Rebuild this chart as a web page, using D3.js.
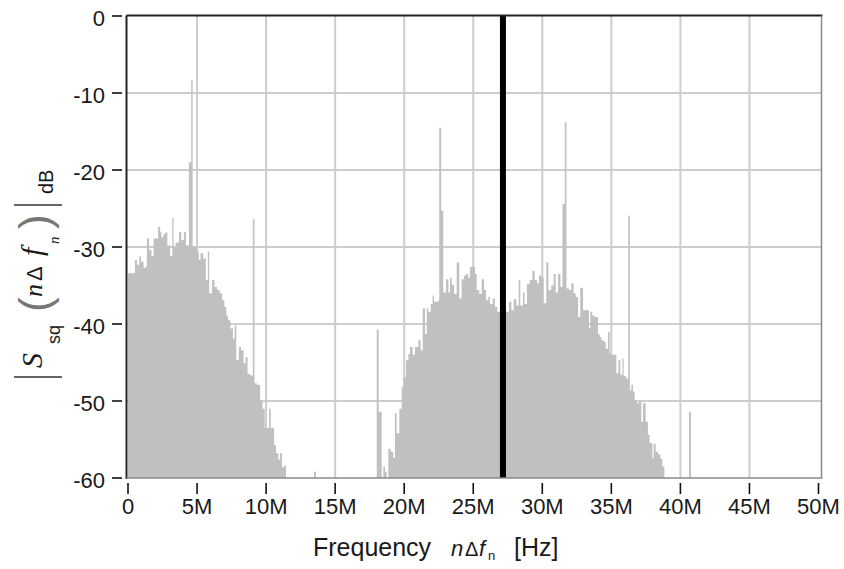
<!DOCTYPE html>
<html>
<head>
<meta charset="utf-8">
<script src="https://cdn.jsdelivr.net/npm/d3@7"></script>
<style>
  html, body { margin: 0; padding: 0; background: #ffffff; }
  svg { display: block; }
</style>
</head>
<body>
<svg id="chart" width="844" height="569"></svg>
<script>
// ---- data (frequencies in MHz, levels in dB); each bar runs from its start to the next start
const binStartMHz = [
  0.00, 0.50, 0.65, 0.82, 0.94, 1.13, 1.29, 1.37, 1.53, 1.70, 1.85, 2.18, 2.33, 2.42, 2.57, 2.71,
  2.85, 3.05, 3.21, 3.30, 3.45, 3.69, 3.86, 4.05, 4.20, 4.41, 4.58, 4.68, 4.96, 5.13, 5.25, 5.44,
  5.64, 5.78, 5.88, 6.09, 6.26, 6.45, 6.64, 6.81, 6.98, 7.12, 7.24, 7.41, 7.60, 7.72, 7.84, 8.03,
  8.18, 8.37, 8.51, 8.66, 8.85, 9.04, 9.16, 9.33, 9.57, 9.74, 9.90, 10.22, 10.34, 10.58, 10.72,
  10.89, 11.01, 11.15, 11.29, 11.44,
  13.47, 13.61,
  18.01, 18.15, 18.37, 18.49, 18.61, 18.73, 18.85, 19.02, 19.21, 19.33, 19.45, 19.65, 19.82, 19.94,
  20.13, 20.30, 20.42, 20.61, 20.78, 21.02, 21.19, 21.34, 21.51, 21.63, 21.75, 21.92, 22.06, 22.16,
  22.47, 22.54, 22.68, 22.83, 23.03, 23.20, 23.32, 23.44, 23.61, 23.80, 23.99, 24.16, 24.33, 24.48,
  24.64, 24.76, 25.13, 25.25, 25.44, 25.61, 25.78, 25.92, 26.09, 26.21, 26.41, 26.57, 26.74,
  27.44, 27.59, 27.76, 27.93, 28.12, 28.29, 28.41, 28.60, 28.72, 28.89, 29.09, 29.28, 29.45, 29.62,
  29.76, 29.93, 30.10, 30.29, 30.44, 30.65, 30.82, 30.97, 31.14, 31.31, 31.46, 31.63, 31.75, 31.93,
  32.10, 32.27, 32.42, 32.59, 32.75, 32.95, 33.38, 33.48, 33.62, 33.79, 34.03, 34.15, 34.27, 34.44,
  34.59, 34.76, 34.88, 35.00, 35.36, 35.51, 35.65, 35.80, 35.89, 36.09, 36.22, 36.34, 36.45, 36.57,
  36.69, 36.86, 37.00, 37.17, 37.29, 37.48, 37.65, 37.77, 37.97, 38.06, 38.21, 38.38, 38.55, 38.69,
  38.84,
  40.62, 40.76
];
const levelDb = [
  -33.4, -31.7, -32.3, -31.2, -31.9, -32.7, -32.5, -28.9, -30.4, -31.2, -28.9, -27.4, -28.1, -28.7, -28.3, -28.1,
  -29.8, -31.2, -26.2, -30.0, -29.4, -28.1, -29.1, -28.1, -29.8, -19.0, -8.3, -30.0, -30.6, -31.7, -30.8, -31.5,
  -34.3, -30.6, -36.0, -34.3, -35.2, -35.6, -36.0, -36.9, -37.8, -38.9, -39.5, -40.6, -41.9, -40.2, -44.7, -43.0,
  -43.4, -45.1, -44.3, -46.5, -46.7, -26.4, -47.7, -47.9, -49.9, -51.0, -53.5, -51.0, -53.5, -55.7, -56.8,
  -57.6, -56.8, -58.6, -58.4, -60,
  -59.2, -60,
  -40.7, -51.4, -60, -58.5, -59.2, -60, -56.2, -56.6, -57.4, -51.6, -54.2, -51.0, -48.2, -46.9,
  -44.7, -43.9, -43.0, -44.0, -43.0, -42.1, -43.4, -38.0, -41.3, -38.0, -38.4, -37.4, -36.3, -37.1,
  -36.9, -14.5, -25.3, -35.9, -34.2, -35.9, -34.0, -34.9, -36.1, -32.0, -36.7, -34.2, -33.7, -33.5,
  -34.0, -32.6, -33.5, -35.6, -36.1, -34.2, -35.6, -36.9, -36.5, -37.4, -36.7, -37.8, -38.4,
  -38.4, -37.1, -38.2, -36.8, -37.6, -34.3, -37.6, -35.9, -37.4, -34.8, -34.3, -33.1, -34.3, -34.7,
  -33.7, -34.0, -37.3, -32.0, -35.6, -35.0, -33.5, -35.9, -33.5, -35.2, -24.4, -13.8, -35.4, -35.6,
  -34.7, -36.0, -36.5, -39.1, -35.3, -38.2, -40.6, -38.4, -38.9, -39.1, -41.3, -41.7, -42.1, -42.3,
  -43.2, -41.0, -43.8, -44.0, -46.4, -44.7, -46.6, -44.5, -46.8, -47.1, -25.9, -48.6, -47.9, -48.8,
  -49.9, -50.3, -50.1, -52.7, -50.3, -52.7, -54.4, -55.5, -57.4, -55.6, -56.6, -56.9, -57.5, -58.5,
  -60,
  -51.4, -60
];
const markerMHz = 27.15;
const xTickValues = [0, 5, 10, 15, 20, 25, 30, 35, 40, 45, 50];
const xTickLabels = ["0", "5M", "10M", "15M", "20M", "25M", "30M", "35M", "40M", "45M", "50M"];
const yTickValues = [0, -10, -20, -30, -40, -50, -60];
const yTickLabels = ["0", "-10", "-20", "-30", "-40", "-50", "-60"];

// ---- layout
const svg = d3.select("#chart");
const x = d3.scaleLinear().domain([0, 50]).range([128, 818.5]);
const y = d3.scaleLinear().domain([-60, 0]).range([478, 16]);
const plotL = 126.5, plotR = 821.5, plotT = 15.5, plotB = 478;
const font = "'Liberation Sans', Arial, sans-serif";
const serif = "'Liberation Serif', 'Times New Roman', serif";
const textCol = "#1a1a1a";

svg.append("rect").attr("x", plotL).attr("y", plotT).attr("width", plotR - plotL).attr("height", plotB - plotT).attr("fill", "#ffffff");

// grid
const grid = svg.append("g").attr("stroke", "#cdcdcd").attr("stroke-width", 2);
grid.selectAll("line.v").data(xTickValues.slice(1, -1)).join("line")
  .attr("x1", d => x(d)).attr("x2", d => x(d)).attr("y1", plotT).attr("y2", plotB);
grid.selectAll("line.h").data(yTickValues.slice(1, -1)).join("line")
  .attr("x1", plotL).attr("x2", plotR).attr("y1", d => y(d)).attr("y2", d => y(d));

// spectrum (step area)
const pts = binStartMHz.map((f, i) => ({ f, v: levelDb[i] }));
const area = d3.area()
  .curve(d3.curveStepAfter)
  .x(d => x(d.f))
  .y0(y(-60))
  .y1(d => y(Math.max(-60, d.v)));
svg.append("clipPath").attr("id", "clip").append("rect")
  .attr("x", plotL).attr("y", plotT).attr("width", plotR - plotL).attr("height", plotB - plotT);
svg.append("path").datum(pts).attr("clip-path", "url(#clip)")
  .attr("d", area).attr("fill", "#c0c0c0");

// marker
svg.append("line").attr("x1", x(markerMHz)).attr("x2", x(markerMHz))
  .attr("y1", plotT).attr("y2", plotB).attr("stroke", "#000").attr("stroke-width", 6);

// frame
svg.append("line").attr("x1", plotL).attr("x2", plotR + 1).attr("y1", plotT).attr("y2", plotT).attr("stroke", "#222").attr("stroke-width", 2);
svg.append("line").attr("x1", plotL).attr("x2", plotL).attr("y1", plotT).attr("y2", plotB + 1).attr("stroke", "#222").attr("stroke-width", 2);
svg.append("line").attr("x1", plotL).attr("x2", plotR + 1).attr("y1", plotB).attr("y2", plotB).attr("stroke", "#8a8a8a").attr("stroke-width", 1.5);
svg.append("line").attr("x1", plotR).attr("x2", plotR).attr("y1", plotT).attr("y2", plotB).attr("stroke", "#8a8a8a").attr("stroke-width", 1.5);

// y ticks
const yt = svg.append("g");
yt.selectAll("line").data(yTickValues).join("line")
  .attr("x1", 112).attr("x2", 122).attr("y1", d => y(d)).attr("y2", d => y(d))
  .attr("stroke", "#111").attr("stroke-width", 1.6);
yt.selectAll("text").data(yTickValues).join("text")
  .attr("x", 105).attr("y", d => y(d) + 10)
  .attr("text-anchor", "end").attr("font-family", font).attr("font-size", 22).attr("fill", textCol)
  .text((d, i) => yTickLabels[i]);

// x ticks
const xt = svg.append("g");
xt.selectAll("line").data(xTickValues).join("line")
  .attr("x1", d => x(d)).attr("x2", d => x(d)).attr("y1", 483).attr("y2", 494)
  .attr("stroke", "#111").attr("stroke-width", 1.6);
xt.selectAll("text").data(xTickValues).join("text")
  .attr("x", d => x(d)).attr("y", 514)
  .attr("text-anchor", "middle").attr("font-family", font).attr("font-size", 22).attr("fill", textCol)
  .text((d, i) => xTickLabels[i]);

// x title
const xTitle = svg.append("text").attr("y", 556).attr("font-family", font).attr("font-size", 25).attr("fill", textCol);
xTitle.append("tspan").attr("x", 313).text("Frequency");
xTitle.append("tspan").attr("x", 451).attr("font-style", "italic").attr("font-size", 22).text("n");
xTitle.append("tspan").attr("x", 465).attr("font-size", 20).text("Δ");
xTitle.append("tspan").attr("x", 479).attr("font-style", "italic").attr("font-size", 22).text("f");
xTitle.append("tspan").attr("x", 488).attr("dy", 4).attr("font-size", 13).text("n");
xTitle.append("tspan").attr("x", 514).attr("dy", -4).text("[Hz]");

// y title (rotated pieces)
function rot(txt, bx, by, size, opts = {}) {
  const t = svg.append("text")
    .attr("transform", `translate(${bx},${by}) rotate(-90)`)
    .attr("font-family", opts.family || font)
    .attr("font-size", size)
    .attr("fill", opts.fill || textCol)
    .text(txt);
  if (opts.italic) t.attr("font-style", "italic");
  return t;
}
svg.append("line").attr("x1", 14).attr("x2", 62).attr("y1", 377).attr("y2", 377).attr("stroke", "#333").attr("stroke-width", 1.5);
rot("S", 42, 368, 30, { family: serif, italic: true });
rot("sq", 60, 344, 18);
rot("(", 50, 312, 44, { fill: "#777" });
rot("n", 42, 297, 26, { family: serif, italic: true });
rot("Δ", 42, 281, 22);
rot("f", 42, 256, 30, { family: serif, italic: true });
rot("n", 59, 244, 15, { family: serif, italic: true });
rot(")", 50, 229, 44, { fill: "#777" });
svg.append("line").attr("x1", 14).attr("x2", 62).attr("y1", 205).attr("y2", 205).attr("stroke", "#333").attr("stroke-width", 1.5);
rot("dB", 53, 194, 20);
</script>
</body>
</html>
